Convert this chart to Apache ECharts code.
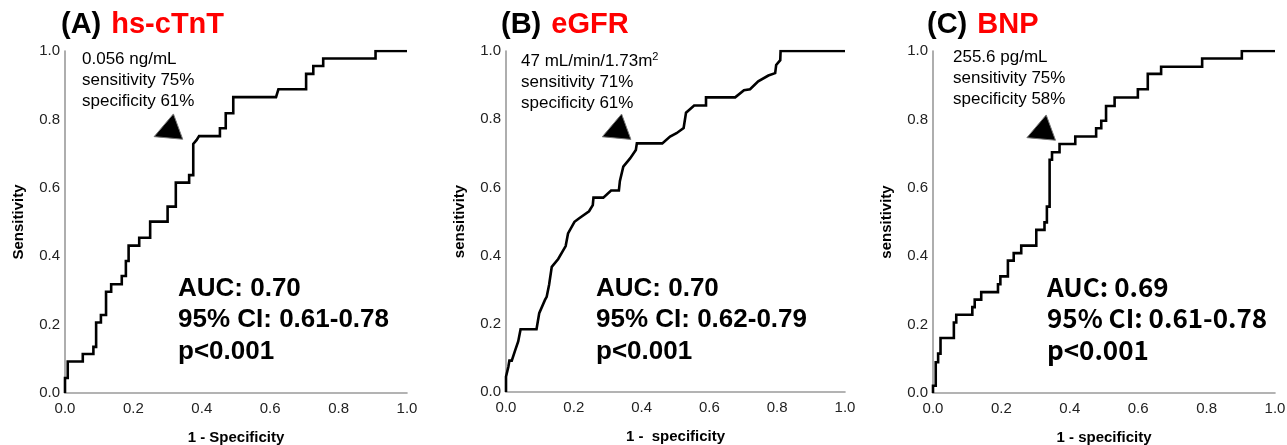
<!DOCTYPE html>
<html>
<head>
<meta charset="utf-8">
<script src="https://cdn.jsdelivr.net/npm/echarts@6/dist/echarts.min.js"></script>
<style>html,body{margin:0;padding:0;background:#fff;overflow:hidden}#c{width:1287px;height:445px}</style>
</head>
<body>
<div id="c"></div>
<script>
// ---- data ----
const ticks = [0, 0.2, 0.4, 0.6, 0.8, 1.0];
const panelTitles = ['(A)', '(B)', '(C)'];
const markerNames = ['hs-cTnT', 'eGFR', 'BNP'];
const xNames = ['1 - Specificity', '1 -  specificity', '1 - specificity'];
const yNames = ['Sensitivity', 'sensitivity', 'sensitivity'];
const cutoffLabels = ['0.056 ng/mL', '47 mL/min/1.73m', '255.6 pg/mL'];
const sensLabels = ['sensitivity 75%', 'sensitivity 71%', 'sensitivity 75%'];
const specLabels = ['specificity 61%', 'specificity 61%', 'specificity 58%'];
const aucLabels = ['AUC: 0.70', 'AUC: 0.70', 'AUC: 0.69'];
const ciLabels = ['95% CI: 0.61-0.78', '95% CI: 0.62-0.79', '95% CI: 0.61-0.78'];
const pLabels = ['p<0.001', 'p<0.001', 'p<0.001'];
// cutoff marker anchors (1-spec, sens)
const cutoffFpr = [0.317, 0.341, 0.331];
const cutoffTpr = [0.816, 0.815, 0.813];

const fprA = [0,0,0.008,0.008,0.052,0.052,0.083,0.083,0.091,0.091,0.105,0.105,0.120,0.120,0.135,0.135,0.166,0.166,0.178,0.178,0.186,0.186,0.217,0.217,0.249,0.249,0.300,0.300,0.324,0.324,0.363,0.363,0.375,0.375,0.385,0.392,0.453,0.453,0.470,0.470,0.492,0.492,0.617,0.624,0.705,0.705,0.726,0.726,0.755,0.755,0.908,0.908,1.0];
const tprA = [0,0.044,0.044,0.092,0.092,0.114,0.114,0.135,0.135,0.206,0.206,0.228,0.228,0.296,0.296,0.318,0.318,0.342,0.342,0.386,0.386,0.431,0.431,0.454,0.454,0.501,0.501,0.545,0.545,0.615,0.615,0.637,0.637,0.728,0.740,0.751,0.751,0.774,0.774,0.818,0.818,0.865,0.865,0.888,0.888,0.933,0.933,0.956,0.956,0.978,0.978,1.0,1.0];

const fprB = [0,0,0.007,0.010,0.017,0.027,0.036,0.043,0.090,0.098,0.115,0.120,0.127,0.135,0.154,0.176,0.183,0.202,0.215,0.245,0.256,0.258,0.287,0.310,0.333,0.336,0.346,0.366,0.383,0.386,0.461,0.484,0.503,0.524,0.531,0.555,0.590,0.590,0.676,0.702,0.720,0.744,0.774,0.794,0.797,0.809,0.810,1.0];
const tprB = [0,0.045,0.074,0.092,0.092,0.122,0.148,0.184,0.184,0.231,0.270,0.279,0.314,0.367,0.390,0.428,0.465,0.499,0.509,0.530,0.548,0.570,0.570,0.591,0.591,0.619,0.661,0.685,0.710,0.729,0.729,0.749,0.759,0.774,0.819,0.840,0.840,0.864,0.864,0.885,0.888,0.911,0.928,0.935,0.959,0.973,1.0,1.0];

const fprC = [0,0,0.008,0.008,0.015,0.015,0.022,0.022,0.061,0.061,0.068,0.068,0.115,0.115,0.122,0.122,0.141,0.141,0.190,0.190,0.197,0.197,0.219,0.219,0.236,0.236,0.258,0.258,0.302,0.302,0.326,0.326,0.333,0.333,0.341,0.341,0.348,0.348,0.370,0.370,0.416,0.416,0.477,0.477,0.492,0.492,0.506,0.506,0.531,0.531,0.599,0.599,0.628,0.628,0.667,0.667,0.787,0.787,0.903,0.903,1.0];
const tprC = [0,0.021,0.021,0.090,0.090,0.115,0.115,0.161,0.161,0.206,0.206,0.229,0.229,0.251,0.251,0.273,0.273,0.295,0.295,0.318,0.318,0.341,0.341,0.387,0.387,0.409,0.409,0.431,0.431,0.477,0.477,0.499,0.499,0.545,0.545,0.682,0.682,0.704,0.704,0.728,0.728,0.750,0.750,0.774,0.774,0.796,0.796,0.839,0.839,0.864,0.864,0.888,0.888,0.933,0.933,0.954,0.954,0.978,0.978,1.0,1.0];

const curves = [[fprA, tprA], [fprB, tprB], [fprC, tprC]];

// ---- layout ----
const grids = [
  {left: 65, top: 51, width: 342, height: 342, outerBoundsMode: 'none', containLabel: false},
  {left: 506, top: 51, width: 339, height: 341, outerBoundsMode: 'none', containLabel: false},
  {left: 933, top: 51, width: 342, height: 342, outerBoundsMode: 'none', containLabel: false}
];
const titlePos = [[61, 25], [501, 25], [927, 25]];
const notePos = [[82, 62], [521, 62], [953, 60]];
const aucPos = [[178, 289], [596, 289], [1047, 287]];
const baseFont = 'Liberation Sans, Arial, sans-serif';
const aucFonts = [baseFont, baseFont, '"Noto Sans CJK JP", "Noto Sans", sans-serif'];

const chart = echarts.init(document.getElementById('c'), null, {renderer: 'canvas'});

const xAxes = [], yAxes = [], series = [], graphics = [];
for (let i = 0; i < 3; i++) {
  const axisCommon = {
    type: 'value', min: ticks[0], max: ticks[ticks.length - 1], interval: 0.2,
    gridIndex: i,
    axisLine: {show: true, lineStyle: {color: '#9a9a9a', width: 1.6}},
    axisTick: {show: false},
    splitLine: {show: false},
    nameLocation: 'middle',
    nameTextStyle: {fontFamily: baseFont, fontWeight: 'bold', fontSize: 15, color: '#000'},
    axisLabel: {fontFamily: baseFont, fontSize: 15, color: '#222', formatter: v => v.toFixed(1)}
  };
  xAxes.push(Object.assign({}, axisCommon, {
    name: xNames[i], nameGap: 37,
    axisLabel: Object.assign({}, axisCommon.axisLabel, {margin: 8})
  }));
  yAxes.push(Object.assign({}, axisCommon, {
    name: yNames[i], nameGap: 39,
    axisLabel: Object.assign({}, axisCommon.axisLabel, {margin: 5})
  }));
  const [fx, ty] = curves[i];
  series.push({
    type: 'line', xAxisIndex: i, yAxisIndex: i,
    data: fx.map((v, k) => [v, ty[k]]),
    showSymbol: false, symbol: 'none', silent: true,
    lineStyle: {color: '#000', width: 2.6, join: 'miter'},
    z: 3
  });
  series.push({
    type: 'custom', xAxisIndex: i, yAxisIndex: i, silent: true,
    data: [[cutoffFpr[i], cutoffTpr[i]]],
    renderItem: function (params, api) {
      const p = api.coord([api.value(0), api.value(1)]);
      return {
        type: 'polygon',
        shape: {points: [[p[0], p[1]], [p[0] - 19.3, p[1] + 22.7], [p[0] + 9.3, p[1] + 25.3]]},
        style: {fill: '#000', stroke: '#777', lineWidth: 1}
      };
    },
    z: 4
  });
  graphics.push({
    type: 'text', left: titlePos[i][0], top: titlePos[i][1] - 15,
    style: {
      text: '{a|' + panelTitles[i] + '}{g| }{b|' + markerNames[i] + '}',
      rich: {
        a: {fontFamily: baseFont, fontWeight: 'bold', fontSize: 29, fill: '#000'},
        g: {fontFamily: baseFont, fontSize: 29, width: 10},
        b: {fontFamily: baseFont, fontWeight: 'bold', fontSize: 29, fill: '#ff0000'}
      }
    }
  });
  const cut = i === 1 ? '{n|' + cutoffLabels[i] + '}{s|2}' : '{n|' + cutoffLabels[i] + '}';
  graphics.push({
    type: 'text', left: notePos[i][0], top: notePos[i][1] - 11,
    style: {
      text: cut + '\n{n|' + sensLabels[i] + '}\n{n|' + specLabels[i] + '}',
      rich: {
        n: {fontFamily: baseFont, fontSize: 17, fill: '#000', lineHeight: 21},
        s: {fontFamily: baseFont, fontSize: 11, fill: '#000', lineHeight: 21, verticalAlign: 'top', padding: [0, 0, 8, 0]}
      }
    }
  });
  graphics.push({
    type: 'text', left: aucPos[i][0], top: aucPos[i][1] - 16,
    style: {
      text: aucLabels[i] + '\n' + ciLabels[i] + '\n' + pLabels[i],
      fontFamily: aucFonts[i], fontWeight: 'bold', fontSize: 26, fill: '#000', lineHeight: 31.5
    }
  });
}

chart.setOption({
  animation: false,
  backgroundColor: '#fff',
  grid: grids,
  xAxis: xAxes,
  yAxis: yAxes,
  series: series,
  graphic: graphics
});
</script>
</body>
</html>
